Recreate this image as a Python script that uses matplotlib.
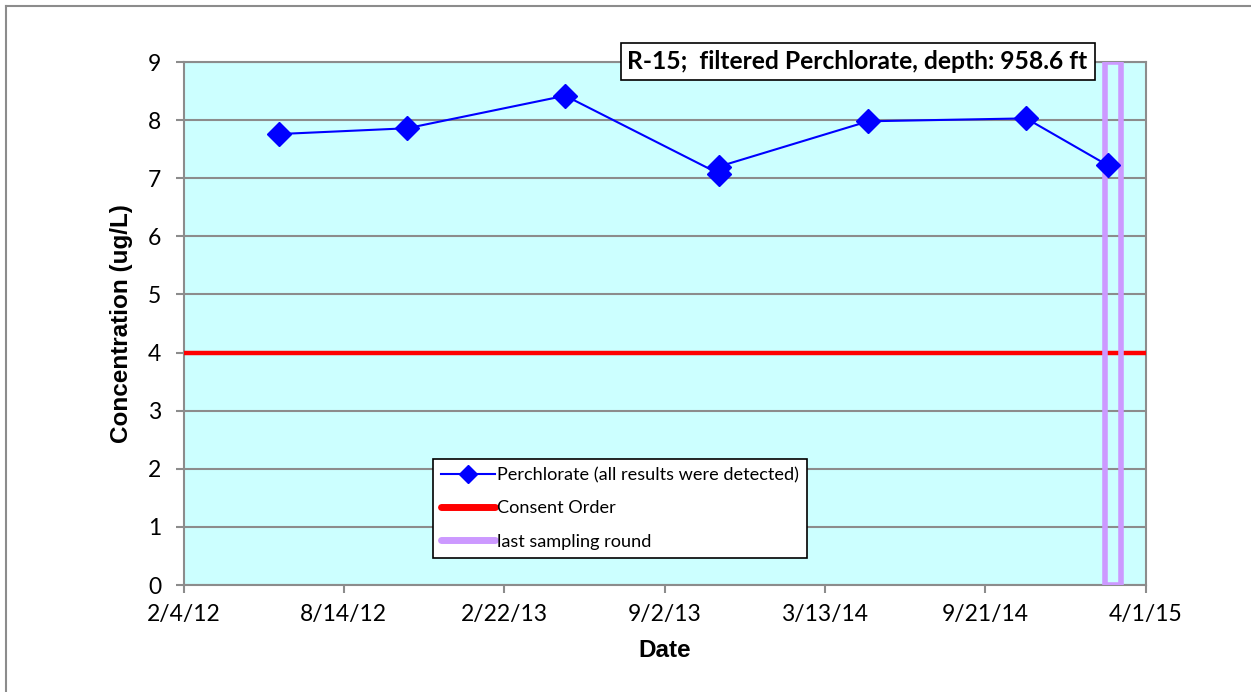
import datetime as dt
import matplotlib
matplotlib.use("Agg")
import matplotlib.pyplot as plt
from matplotlib.lines import Line2D

# --- data ---
sample_dates = ["2012-05-28", "2012-10-29", "2013-05-06", "2013-11-06",
                "2013-11-06", "2014-05-04", "2014-11-09", "2015-02-15"]
perchlorate = [7.76, 7.86, 8.42, 7.08, 7.20, 7.98, 8.03, 7.22]
consent_order = 4.0
last_round_start = "2015-02-12"
last_round_days = 19
axis_start = "2012-02-04"
tick_step_days = 192
n_ticks = 7
title = "R-15;  filtered Perchlorate, depth: 958.6 ft"

TICK_FONT = "Lato"
LABEL_FONT = "Liberation Sans"


def to_date(s):
    return dt.datetime.strptime(s, "%Y-%m-%d")


dates = [to_date(s) for s in sample_dates]
start = to_date(axis_start)
ticks = [start + dt.timedelta(days=tick_step_days * k) for k in range(n_ticks)]

fig = plt.figure(figsize=(12.51, 6.92), dpi=100)
ax = fig.add_axes([0.1467, 0.1546, 0.7690, 0.7558])
ax.set_facecolor("#CCFFFF")

# gridlines
ax.set_axisbelow(True)
ax.yaxis.grid(True, color="#8C8C8C", lw=1.5)

# consent order line
ax.axhline(consent_order, color="#FF0000", lw=3.2, zorder=3)

# last sampling round (hollow purple box)
ax.bar(to_date(last_round_start), 9, width=last_round_days, align="edge",
       fill=False, edgecolor="#CC99FF", lw=4, zorder=4)

# perchlorate series
ax.plot(dates, perchlorate, color="#0000FF", lw=1.5, marker="D",
        markersize=12, zorder=5)

ax.set_xlim(ticks[0], ticks[-1])
ax.set_ylim(0, 9)
ax.set_yticks(range(10))
ax.set_xticks(ticks)
ax.set_xticklabels([f"{d.month}/{d.day}/{d.year % 100}" for d in ticks])

for s in ax.spines.values():
    s.set_color("#8C8C8C")
    s.set_linewidth(1.5)
ax.tick_params(axis="both", direction="out", length=6, width=1.5,
               color="#8C8C8C", labelsize=16.5)
ax.tick_params(axis="y", pad=10)
ax.tick_params(axis="x", pad=8)
for lab in ax.get_xticklabels() + ax.get_yticklabels():
    lab.set_fontfamily(TICK_FONT)

ax.set_xlabel("Date", fontsize=17.5, fontweight="bold", family=LABEL_FONT,
              labelpad=10)
ax.set_ylabel("Concentration (ug/L)", fontsize=17.5, fontweight="bold",
              family=LABEL_FONT, labelpad=11)

# legend
handles = [
    Line2D([], [], color="#0000FF", lw=1.5, marker="D", markersize=9),
    Line2D([], [], color="#FF0000", lw=5, solid_capstyle="round"),
    Line2D([], [], color="#CC99FF", lw=5, solid_capstyle="round"),
]
labels = ["Perchlorate (all results were detected)", "Consent Order",
          "last sampling round"]
leg = ax.legend(handles, labels, loc="lower left",
                bbox_to_anchor=(0.259, 0.052), fancybox=False, framealpha=1,
                edgecolor="black", prop={"family": TICK_FONT, "size": 13.1},
                handlelength=3.0, handletextpad=0.1, labelspacing=0.95,
                borderpad=0.45, borderaxespad=0)
leg.get_frame().set_linewidth(1.2)
leg.set_zorder(10)

# title box
fig.text(0.6855, 0.911, title, ha="center", va="center", fontsize=17.7,
         fontweight="bold", family=TICK_FONT,
         bbox=dict(boxstyle="square,pad=0.28", fc="white", ec="black", lw=1.2))

# outer chart border (top and left visible)
fig.add_artist(Line2D([0.005, 1.0], [0.992, 0.992], color="#8C8C8C", lw=1.5,
                      transform=fig.transFigure))
fig.add_artist(Line2D([0.005, 0.005], [0.0, 0.992], color="#8C8C8C", lw=1.5,
                      transform=fig.transFigure))

fig.savefig("out.png", dpi=100)
